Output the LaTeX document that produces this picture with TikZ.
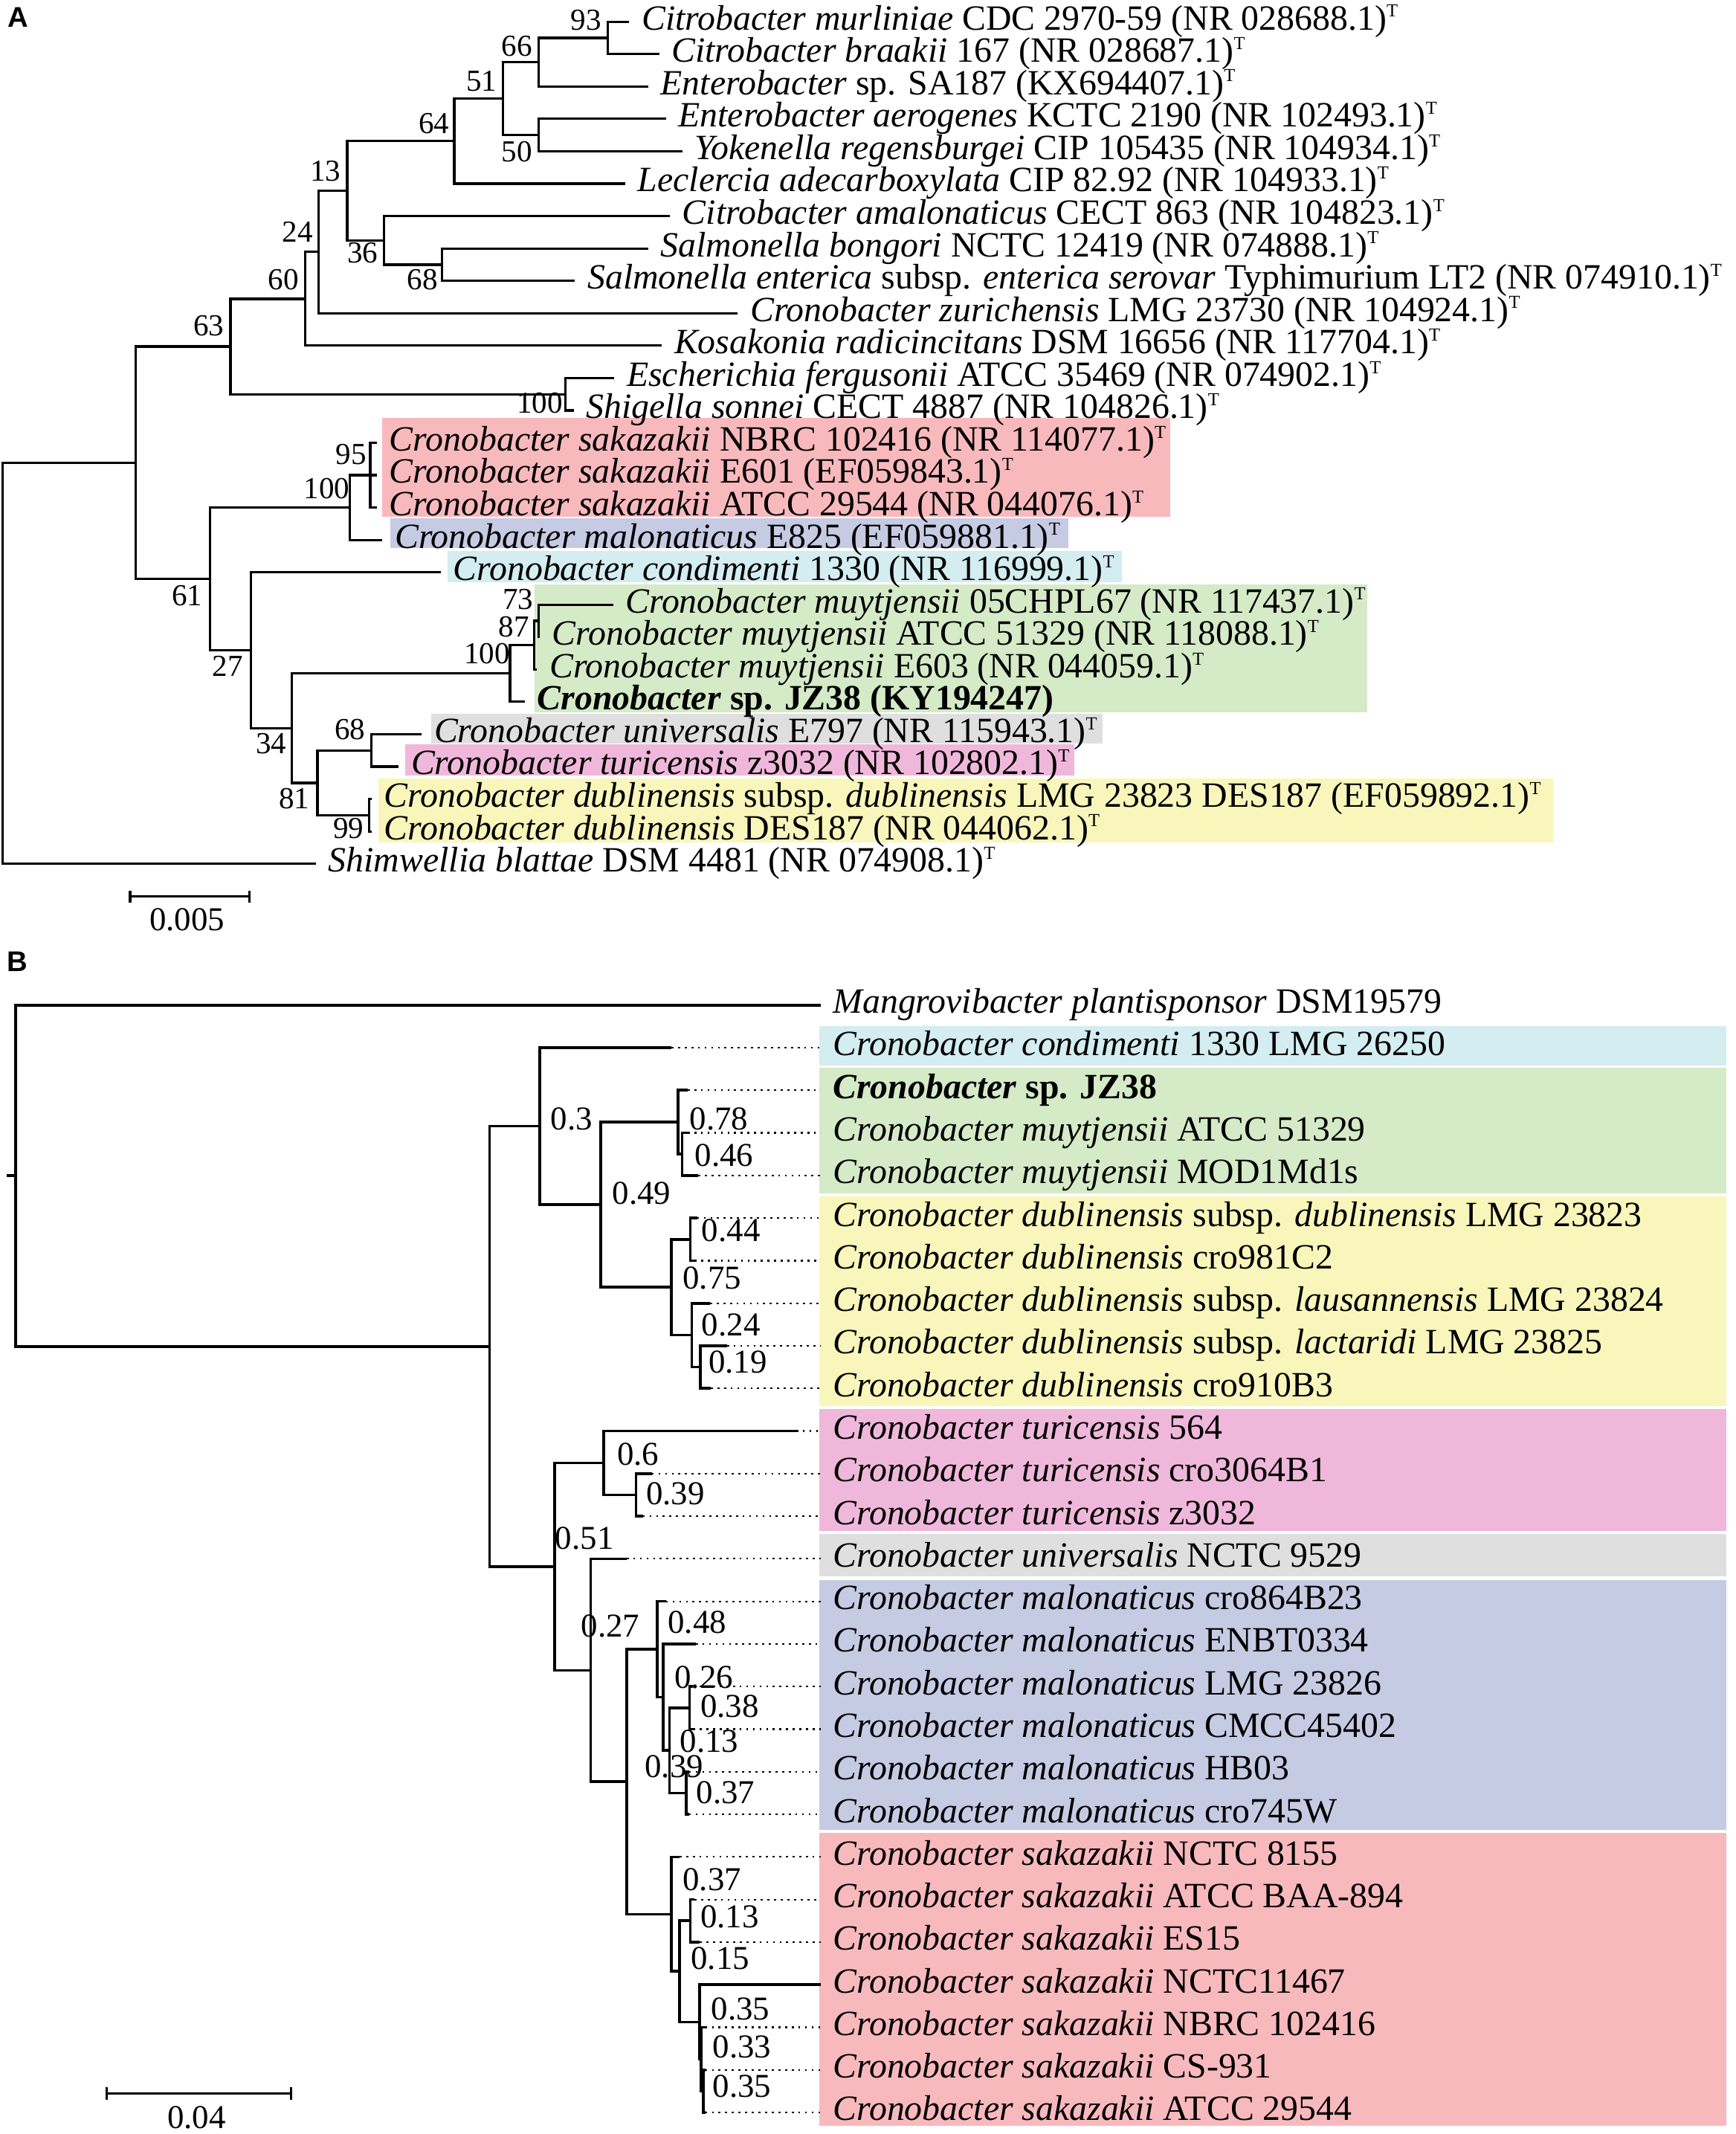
\documentclass[tikz,border=0pt]{standalone}
\usepackage{fontspec}
\setmainfont{Liberation Serif}
\newfontfamily\panelfont{Liberation Sans}
\usetikzlibrary{arrows,arrows.meta}
\tikzset{>=latex}
\definecolor{sakcol}{HTML}{F8B9BD}
\definecolor{malcol}{HTML}{C5CBE3}
\definecolor{concol}{HTML}{D3EDF1}
\definecolor{muycol}{HTML}{D5EAC7}
\definecolor{unicol}{HTML}{DFDFDF}
\definecolor{turcol}{HTML}{EFB8DA}
\definecolor{dubcol}{HTML}{F8F6BB}
\newcommand{\typestrain}{\raisebox{9.5pt}{\fontsize{13.5}{15}\selectfont T}}
\tikzstyle{branch}=[draw=black,line width=1.8pt]
\tikzstyle{thickbranch}=[draw=black,line width=2pt]
\tikzstyle{leader}=[draw=black,line width=1.2pt,dash pattern=on 1.5pt off 3.4pt]
\tikzstyle{taxon}=[anchor=west,inner xsep=9pt,inner ysep=0pt,text height=16pt,text depth=4pt,font=\fontsize{26.2}{30}\selectfont]
\tikzstyle{boot}=[inner sep=0pt,font=\fontsize{22.5}{26}\selectfont]
\tikzstyle{support}=[inner sep=0pt,font=\fontsize{24.6}{28}\selectfont]
\tikzstyle{panel}=[inner sep=0pt,font=\panelfont\bfseries\fontsize{21}{24}\selectfont]
\tikzstyle{scalebar}=[draw=black,line width=1.8pt,{Bar[width=9pt]}-{Bar[width=9pt]}]

\begin{document}
\begin{tikzpicture}[x=1pt,y=-1pt]
	\useasboundingbox (0,0) rectangle (1280,1573.3);

	% A: clade shading
	\fill[sakcol] (282,308) rectangle (863,381);
	\fill[malcol] (288,382) rectangle (788,404);
	\fill[concol] (330,406) rectangle (827,429);
	\fill[muycol] (394,431) rectangle (1008,525);
	\fill[unicol] (318,526) rectangle (813,548);
	\fill[turcol] (299,549) rectangle (792,572);
	\fill[dubcol] (279,574) rectangle (1145,621);

	\node[panel] (pA) at (13.5,13) {A};

	\node[taxon] (a1) at (464,16.0) {\textit{Citrobacter murliniae} CDC 2970-59 (NR 028688.1)\typestrain};
	\node[taxon] (a2) at (486,39.9) {\textit{Citrobacter braakii} 167 (NR 028687.1)\typestrain};
	\node[taxon] (a3) at (478,63.8) {\textit{Enterobacter} sp. SA187 (KX694407.1)\typestrain};
	\node[taxon] (a4) at (491,87.6) {\textit{Enterobacter aerogenes} KCTC 2190 (NR 102493.1)\typestrain};
	\node[taxon] (a5) at (503,111.5) {\textit{Yokenella regensburgei} CIP 105435 (NR 104934.1)\typestrain};
	\node[taxon] (a6) at (461,135.4) {\textit{Leclercia adecarboxylata} CIP 82.92 (NR 104933.1)\typestrain};
	\node[taxon] (a7) at (494,159.3) {\textit{Citrobacter amalonaticus} CECT 863 (NR 104823.1)\typestrain};
	\node[taxon] (a8) at (478,183.2) {\textit{Salmonella bongori} NCTC 12419 (NR 074888.1)\typestrain};
	\node[taxon] (a9) at (424,207.0) {\textit{Salmonella enterica} subsp. \textit{enterica serovar} Typhimurium LT2 (NR 074910.1)\typestrain};
	\node[taxon] (a10) at (544,230.9) {\textit{Cronobacter zurichensis} LMG 23730 (NR 104924.1)\typestrain};
	\node[taxon] (a11) at (488,254.8) {\textit{Kosakonia radicincitans} DSM 16656 (NR 117704.1)\typestrain};
	\node[taxon] (a12) at (453,278.7) {\textit{Escherichia fergusonii} ATCC 35469 (NR 074902.1)\typestrain};
	\node[taxon] (a13) at (423,302.6) {\textit{Shigella sonnei} CECT 4887 (NR 104826.1)\typestrain};
	\node[taxon] (a14) at (278,326.4) {\textit{Cronobacter sakazakii} NBRC 102416 (NR 114077.1)\typestrain};
	\node[taxon] (a15) at (278,350.3) {\textit{Cronobacter sakazakii} E601 (EF059843.1)\typestrain};
	\node[taxon] (a16) at (278,374.2) {\textit{Cronobacter sakazakii} ATCC 29544 (NR 044076.1)\typestrain};
	\node[taxon] (a17) at (282,398.1) {\textit{Cronobacter malonaticus} E825 (EF059881.1)\typestrain};
	\node[taxon] (a18) at (325,422.0) {\textit{Cronobacter condimenti} 1330 (NR 116999.1)\typestrain};
	\node[taxon] (a19) at (452,445.8) {\textit{Cronobacter muytjensii} 05CHPL67 (NR 117437.1)\typestrain};
	\node[taxon] (a20) at (398,469.7) {\textit{Cronobacter muytjensii} ATCC 51329 (NR 118088.1)\typestrain};
	\node[taxon] (a21) at (396,493.6) {\textit{Cronobacter muytjensii} E603 (NR 044059.1)\typestrain};
	\node[taxon] (a22) at (387,517.4) {\textbf{\textit{Cronobacter} sp. JZ38 (KY194247)}};
	\node[taxon] (a23) at (311,541.4) {\textit{Cronobacter universalis} E797 (NR 115943.1)\typestrain};
	\node[taxon] (a24) at (294,565.2) {\textit{Cronobacter turicensis} z3032 (NR 102802.1)\typestrain};
	\node[taxon] (a25) at (274,589.1) {\textit{Cronobacter dublinensis} subsp. \textit{dublinensis} LMG 23823 DES187 (EF059892.1)\typestrain};
	\node[taxon] (a26) at (274,613.0) {\textit{Cronobacter dublinensis} DES187 (NR 044062.1)\typestrain};
	\node[taxon] (a27) at (233,636.9) {\textit{Shimwellia blattae} DSM 4481 (NR 074908.1)\typestrain};

	% A: internal nodes
	\coordinate (n93) at (448,27.95);
	\coordinate (n66) at (397,45.9);
	\coordinate (n50) at (397,99.55);
	\coordinate (n51) at (371,72.7);
	\coordinate (n64) at (335,104.05);
	\coordinate (n68a) at (326,195.1);
	\coordinate (n36) at (283,177.2);
	\coordinate (n13) at (256,140.6);
	\coordinate (n24) at (235,185.75);
	\coordinate (n60) at (225,220.3);
	\coordinate (nEsch) at (417,290.65);
	\coordinate (n63) at (170,255.5);
	\coordinate (n95) at (273,350.3);
	\coordinate (n100s) at (258,374.2);
	\coordinate (n73) at (397,457.75);
	\coordinate (n87) at (394,475.7);
	\coordinate (n100m) at (376,496.55);
	\coordinate (n68b) at (274,553.3);
	\coordinate (n99) at (272,601.05);
	\coordinate (n81) at (234,577.2);
	\coordinate (n34) at (215,536.9);
	\coordinate (n27) at (185,479.45);
	\coordinate (n61) at (155,426.8);
	\coordinate (nA) at (100,341.15);
	\coordinate (rootA) at (2,489);

	\draw[branch] (a1.west) -| (n93) |- (a2.west);
	\draw[branch] (n93) -| (n66) |- (a3.west);
	\draw[branch] (a4.west) -| (n50) |- (a5.west);
	\draw[branch] (n66) -| (n51) |- (n50);
	\draw[branch] (n51) -| (n64) |- (a6.west);
	\draw[branch] (a8.west) -| (n68a) |- (a9.west);
	\draw[branch] (a7.west) -| (n36) |- (n68a);
	\draw[branch] (n64) -| (n13) |- (n36);
	\draw[branch] (n13) -| (n24) |- (a10.west);
	\draw[branch] (n24) -| (n60) |- (a11.west);
	\draw[branch] (a12.west) -| (nEsch) |- (a13.west);
	\draw[branch] (n60) -| (n63) |- (nEsch);
	\draw[branch] (a14.west) -| (n95) |- (a16.west);
	\draw[branch] (n95) -- (a15.west);
	\draw[branch] (n95) -| (n100s) |- (a17.west);
	\draw[branch] (a19.west) -| (n73) |- (a20.west);
	\draw[branch] (n73) -| (n87) |- (a21.west);
	\draw[branch] (n87) -| (n100m) |- (a22.west);
	\draw[branch] (a23.west) -| (n68b) |- (a24.west);
	\draw[branch] (a25.west) -| (n99) |- (a26.west);
	\draw[branch] (n68b) -| (n81) |- (n99);
	\draw[branch] (n100m) -| (n34) |- (n81);
	\draw[branch] (a18.west) -| (n27) |- (n34);
	\draw[branch] (n100s) -| (n61) |- (n27);
	\draw[branch] (n63) -| (nA) |- (n61);
	\draw[branch] (nA) -| (rootA) |- (a27.west);

	% A: bootstrap values
	\node[boot] (bs93) at (432,15) {93};
	\node[boot] (bs66) at (381,34) {66};
	\node[boot] (bs51) at (355,60) {51};
	\node[boot] (bs64) at (320,91) {64};
	\node[boot] (bs13) at (240,126) {13};
	\node[boot] (bs24) at (219.5,171) {24};
	\node[boot] (bs60) at (209,206) {60};
	\node[boot] (bs63) at (154,240) {63};
	\node[boot] (bs50) at (381,112) {50};
	\node[boot] (bs36) at (267.5,186.5) {36};
	\node[boot] (bs68a) at (311.5,206) {68};
	\node[boot] (bsEsch) at (398,297) {100};
	\node[boot] (bs95) at (259,335) {95};
	\node[boot] (bs100s) at (241,360) {100};
	\node[boot] (bs61) at (138,439) {61};
	\node[boot] (bs27) at (168,491) {27};
	\node[boot] (bs34) at (200,548) {34};
	\node[boot] (bs100m) at (359,482) {100};
	\node[boot] (bs73) at (382,442) {73};
	\node[boot] (bs87) at (379,462) {87};
	\node[boot] (bs68b) at (258,538) {68};
	\node[boot] (bs81) at (217,589) {81};
	\node[boot] (bs99) at (257,611) {99};

	\coordinate (sbA1) at (95,661);
	\coordinate (sbA2) at (185,661);
	\draw[scalebar] (sbA1) -- (sbA2);
	\node[support] (sbAlab) at (138,678) {0.005};

	% B: clade shading
	\fill[concol] (604,756.7) rectangle (1273,785.7);
	\fill[muycol] (604,787) rectangle (1273,879.6);
	\fill[dubcol] (604,882) rectangle (1273,1036.4);
	\fill[turcol] (604,1038.6) rectangle (1273,1128.6);
	\fill[unicol] (604,1130.9) rectangle (1273,1162.1);
	\fill[malcol] (604,1165) rectangle (1273,1349.1);
	\fill[sakcol] (604,1351.4) rectangle (1273,1567);

	\node[panel] (pB) at (13,709) {B};

	\node[taxon] (b1) at (605,741.0) {\textit{Mangrovibacter plantisponsor} DSM19579};
	\node[taxon] (b2) at (605,772.4) {\textit{Cronobacter condimenti} 1330 LMG 26250};
	\node[taxon] (b3) at (605,803.8) {\textbf{\textit{Cronobacter} sp. JZ38}};
	\node[taxon] (b4) at (605,835.2) {\textit{Cronobacter muytjensii} ATCC 51329};
	\node[taxon] (b5) at (605,866.6) {\textit{Cronobacter muytjensii} MOD1Md1s};
	\node[taxon] (b6) at (605,898.0) {\textit{Cronobacter dublinensis} subsp. \textit{dublinensis} LMG 23823};
	\node[taxon] (b7) at (605,929.4) {\textit{Cronobacter dublinensis} cro981C2};
	\node[taxon] (b8) at (605,960.8) {\textit{Cronobacter dublinensis} subsp. \textit{lausannensis} LMG 23824};
	\node[taxon] (b9) at (605,992.2) {\textit{Cronobacter dublinensis} subsp. \textit{lactaridi} LMG 23825};
	\node[taxon] (b10) at (605,1023.6) {\textit{Cronobacter dublinensis} cro910B3};
	\node[taxon] (b11) at (605,1055.0) {\textit{Cronobacter turicensis} 564};
	\node[taxon] (b12) at (605,1086.4) {\textit{Cronobacter turicensis} cro3064B1};
	\node[taxon] (b13) at (605,1117.8) {\textit{Cronobacter turicensis} z3032};
	\node[taxon] (b14) at (605,1149.2) {\textit{Cronobacter universalis} NCTC 9529};
	\node[taxon] (b15) at (605,1180.6) {\textit{Cronobacter malonaticus} cro864B23};
	\node[taxon] (b16) at (605,1212.0) {\textit{Cronobacter malonaticus} ENBT0334};
	\node[taxon] (b17) at (605,1243.4) {\textit{Cronobacter malonaticus} LMG 23826};
	\node[taxon] (b18) at (605,1274.8) {\textit{Cronobacter malonaticus} CMCC45402};
	\node[taxon] (b19) at (605,1306.2) {\textit{Cronobacter malonaticus} HB03};
	\node[taxon] (b20) at (605,1337.6) {\textit{Cronobacter malonaticus} cro745W};
	\node[taxon] (b21) at (605,1369.0) {\textit{Cronobacter sakazakii} NCTC 8155};
	\node[taxon] (b22) at (605,1400.4) {\textit{Cronobacter sakazakii} ATCC BAA-894};
	\node[taxon] (b23) at (605,1431.8) {\textit{Cronobacter sakazakii} ES15};
	\node[taxon] (b24) at (605,1463.2) {\textit{Cronobacter sakazakii} NCTC11467};
	\node[taxon] (b25) at (605,1494.6) {\textit{Cronobacter sakazakii} NBRC 102416};
	\node[taxon] (b26) at (605,1526.0) {\textit{Cronobacter sakazakii} CS-931};
	\node[taxon] (b27) at (605,1557.4) {\textit{Cronobacter sakazakii} ATCC 29544};

	% B: branch ends
	\coordinate (e2) at (495,772.4);
	\coordinate (e3) at (507,803.8);
	\coordinate (e4) at (507,835.2);
	\coordinate (e5) at (515,866.6);
	\coordinate (e6) at (514,898.0);
	\coordinate (e7) at (512,929.4);
	\coordinate (e8) at (523.5,960.8);
	\coordinate (e9) at (536,992.2);
	\coordinate (e10) at (524,1023.6);
	\coordinate (e11) at (587,1055.0);
	\coordinate (e12) at (480.6,1086.4);
	\coordinate (e13) at (474,1117.8);
	\coordinate (e14) at (462,1149.2);
	\coordinate (e15) at (491,1180.6);
	\coordinate (e16) at (513,1212.0);
	\coordinate (e17) at (511,1243.4);
	\coordinate (e18) at (511,1274.8);
	\coordinate (e19) at (508,1306.2);
	\coordinate (e20) at (508,1337.6);
	\coordinate (e21) at (501,1369.0);
	\coordinate (e22) at (512,1400.4);
	\coordinate (e23) at (516,1431.8);
	\coordinate (e25) at (520,1494.6);
	\coordinate (e26) at (520,1526.0);
	\coordinate (e27) at (520,1557.4);

	% B: internal nodes
	\coordinate (n046) at (503,850.9);
	\coordinate (n078) at (500,827.35);
	\coordinate (n044) at (509,913.7);
	\coordinate (n019) at (516.5,1007.9);
	\coordinate (n024) at (510,984.35);
	\coordinate (n075) at (495,949.0);
	\coordinate (n049) at (443,888.2);
	\coordinate (n03) at (398,830.3);
	\coordinate (n039) at (469,1102.1);
	\coordinate (n06) at (445,1078.55);
	\coordinate (n038) at (508.4,1259.1);
	\coordinate (n037) at (506,1321.9);
	\coordinate (n013m) at (493.7,1290.5);
	\coordinate (n048) at (488.8,1251.25);
	\coordinate (nmal) at (484.7,1215.9);
	\coordinate (n013s) at (509,1416.1);
	\coordinate (ns3) at (518.5,1541.7);
	\coordinate (ns2) at (517,1518.15);
	\coordinate (ns1) at (516,1490.7);
	\coordinate (ns0) at (501,1453.4);
	\coordinate (nsak) at (495,1411.2);
	\coordinate (nms) at (462,1313.55);
	\coordinate (n027) at (435.6,1231.4);
	\coordinate (n051) at (409,1155.0);
	\coordinate (nBig) at (361,992.65);
	\coordinate (rootB) at (11.5,866.8);
	\coordinate (stub) at (5,866.8);

	\draw[thickbranch] (b1.west) -| (rootB) |- (nBig);
	\draw[thickbranch] (stub) -- (rootB);
	\draw[thickbranch] (n03) -| (nBig) |- (n051);
	\draw[thickbranch] (e2) -| (n03) |- (n049);
	\draw[thickbranch] (n078) -| (n049) |- (n075);
	\draw[thickbranch] (e3) -| (n078) |- (n046);
	\draw[thickbranch] (e4) -| (n046) |- (e5);
	\draw[thickbranch] (e6) -| (n044) |- (e7);
	\draw[thickbranch] (n044) -| (n075) |- (n024);
	\draw[thickbranch] (e8) -| (n024) |- (n019);
	\draw[thickbranch] (e9) -| (n019) |- (e10);
	\draw[thickbranch] (n06) -| (n051) |- (n027);
	\draw[thickbranch] (e11) -| (n06) |- (n039);
	\draw[thickbranch] (e12) -| (n039) |- (e13);
	\draw[thickbranch] (e14) -| (n027) |- (nms);
	\draw[thickbranch] (nmal) -| (nms) |- (nsak);
	\draw[thickbranch] (e15) -| (nmal) |- (n048);
	\draw[thickbranch] (e16) -| (n048) |- (n013m);
	\draw[thickbranch] (n038) -| (n013m) |- (n037);
	\draw[thickbranch] (e17) -| (n038) |- (e18);
	\draw[thickbranch] (e19) -| (n037) |- (e20);
	\draw[thickbranch] (e21) -| (nsak) |- (ns0);
	\draw[thickbranch] (n013s) -| (ns0) |- (ns1);
	\draw[thickbranch] (e22) -| (n013s) |- (e23);
	\draw[thickbranch] (b24.west) -| (ns1) |- (ns2);
	\draw[thickbranch] (e25) -| (ns2) |- (ns3);
	\draw[thickbranch] (e26) -| (ns3) |- (e27);

	\foreach \i in {2,...,23,25,26,27}
		\draw[leader] (e\i) -- (b\i.west);

	% B: support values
	\node[support] (bv03) at (421.5,825) {0.3};
	\node[support] (bv078) at (530,825) {0.78};
	\node[support] (bv046) at (534,852) {0.46};
	\node[support] (bv049) at (473,880) {0.49};
	\node[support] (bv044) at (539,907) {0.44};
	\node[support] (bv075) at (525,942) {0.75};
	\node[support] (bv024) at (539,977) {0.24};
	\node[support] (bv019) at (544,1004) {0.19};
	\node[support] (bv06) at (470.5,1072) {0.6};
	\node[support] (bv039) at (498,1101) {0.39};
	\node[support] (bv051) at (431,1134) {0.51};
	\node[support] (bv027) at (450,1199) {0.27};
	\node[support] (bv048) at (514,1196) {0.48};
	\node[support] (bv026) at (519,1236.5) {0.26};
	\node[support] (bv038) at (538,1258) {0.38};
	\node[support] (bv013m) at (523,1284) {0.13};
	\node[support] (bv039m) at (497,1302.5) {0.39};
	\node[support] (bv037m) at (535,1321.5) {0.37};
	\node[support] (bv037s) at (525,1386) {0.37};
	\node[support] (bv013s) at (538,1413) {0.13};
	\node[support] (bv015) at (531,1444) {0.15};
	\node[support] (bv035a) at (546,1481) {0.35};
	\node[support] (bv033) at (547,1509) {0.33};
	\node[support] (bv035b) at (547,1538) {0.35};

	\coordinate (sbB1) at (77.7,1543.3);
	\coordinate (sbB2) at (215.5,1543.3);
	\draw[scalebar] (sbB1) -- (sbB2);
	\node[support] (sbBlab) at (145,1561) {0.04};
\end{tikzpicture}
\end{document}
